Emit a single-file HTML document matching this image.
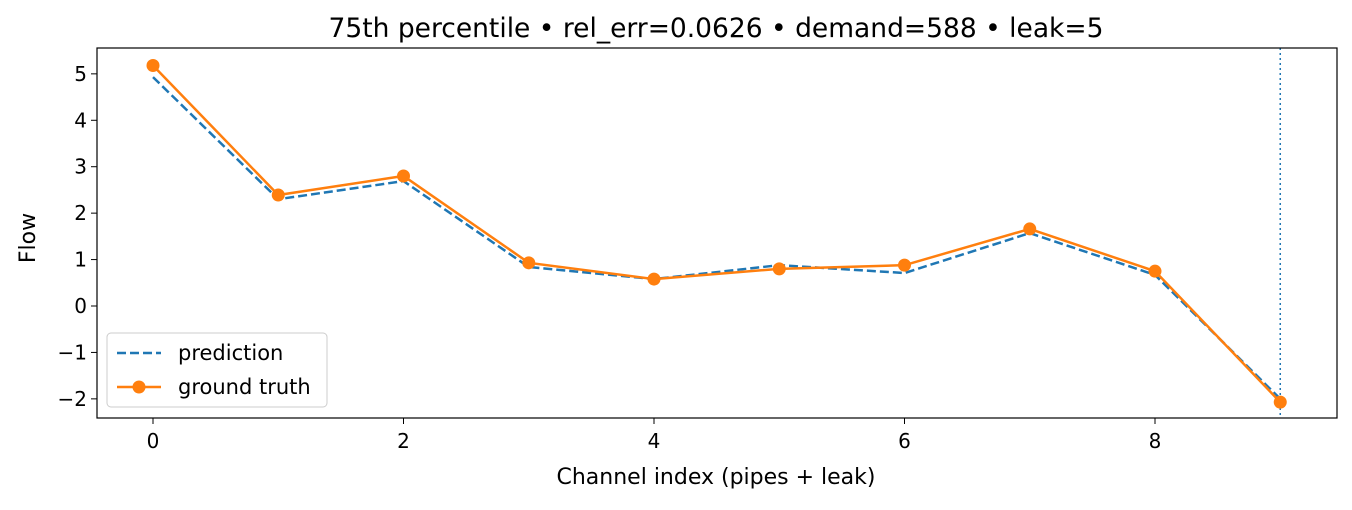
<!DOCTYPE html>
<html><head><meta charset="utf-8"><style>
body{margin:0;background:#fff;}
svg text{font-family:"DejaVu Sans","Liberation Sans",sans-serif;}
</style></head><body>
<svg id="chart" width="1352" height="505" xmlns="http://www.w3.org/2000/svg"></svg>
<script>
const categories=[0,1,2,3,4,5,6,7,8,9];
const prediction=[4.93,2.30,2.69,0.84,0.58,0.88,0.71,1.57,0.67,-2.0];
const groundTruth=[5.18,2.39,2.80,0.93,0.58,0.80,0.88,1.66,0.75,-2.07];
const xTicks=[0,2,4,6,8];
const yTicks=[-2,-1,0,1,2,3,4,5];
const leakIndex=9;
const NS="http://www.w3.org/2000/svg";
const svg=document.getElementById('chart');
const L=97,R=1337,T=48,B=418;
const xs=v=>153+v*125.25;
const ys=v=>306-v*46.43;
function mk(tag,attrs,parent){const e=document.createElementNS(NS,tag);for(const k in attrs)e.setAttribute(k,attrs[k]);(parent||svg).appendChild(e);return e;}
let t=mk('text',{x:716,y:37,'text-anchor':'middle','font-size':26.5});
t.textContent='75th percentile • rel_err=0.0626 • demand=588 • leak=5';


xTicks.forEach(v=>{
 mk('line',{x1:xs(v),x2:xs(v),y1:B,y2:B+6,stroke:'#000'});
 const tx=mk('text',{x:xs(v),y:B+30,'text-anchor':'middle','font-size':20});
 tx.textContent=v;
 
 
});
yTicks.forEach(v=>{
 mk('line',{x1:L-6,x2:L,y1:ys(v),y2:ys(v),stroke:'#000'});
 const tx=mk('text',{x:L-10,y:ys(v)+7,'text-anchor':'end','font-size':20});
 tx.textContent=v<0?'−'+(-v):v;
 
 
});
let xl=mk('text',{x:716,y:484,'text-anchor':'middle','font-size':22});
xl.textContent='Channel index (pipes + leak)';


let yl=mk('text',{x:35,y:238,'text-anchor':'middle','font-size':22,transform:'rotate(-90 35 238)'});
yl.textContent='Flow';


let vl=mk('line',{x1:xs(leakIndex),x2:xs(leakIndex),y1:T,y2:B,stroke:'#1f77b4','stroke-width':1.5,'stroke-dasharray':'2,3'});


const pts=a=>a.map((v,i)=>xs(categories[i])+','+ys(v)).join(' ');
let pl=mk('polyline',{points:pts(prediction),fill:'none',stroke:'#1f77b4','stroke-width':2.5,'stroke-dasharray':'9,4'});


let gl=mk('polyline',{points:pts(groundTruth),fill:'none',stroke:'#ff7f0e','stroke-width':2.5});


groundTruth.forEach((v,i)=>{
 const c=mk('circle',{cx:xs(categories[i]),cy:ys(v),r:6.5,fill:'#ff7f0e'});
 
 
});
mk('rect',{x:L,y:T,width:R-L,height:B-T,fill:'none',stroke:'#000','stroke-width':1.2});
const lg=mk('g',{});


mk('rect',{x:107,y:333,width:220,height:74,rx:4,fill:'#fff',stroke:'#ccc'},lg);
mk('line',{x1:117,x2:161,y1:353,y2:353,stroke:'#1f77b4','stroke-width':2.5,'stroke-dasharray':'9,4'},lg);
let e1=mk('text',{x:178,y:360,'font-size':21},lg);e1.textContent='prediction';


mk('line',{x1:117,x2:161,y1:387,y2:387,stroke:'#ff7f0e','stroke-width':2.5},lg);
mk('circle',{cx:139,cy:387,r:6.5,fill:'#ff7f0e'},lg);
let e2=mk('text',{x:178,y:394,'font-size':21},lg);e2.textContent='ground truth';


</script>
</body></html>
